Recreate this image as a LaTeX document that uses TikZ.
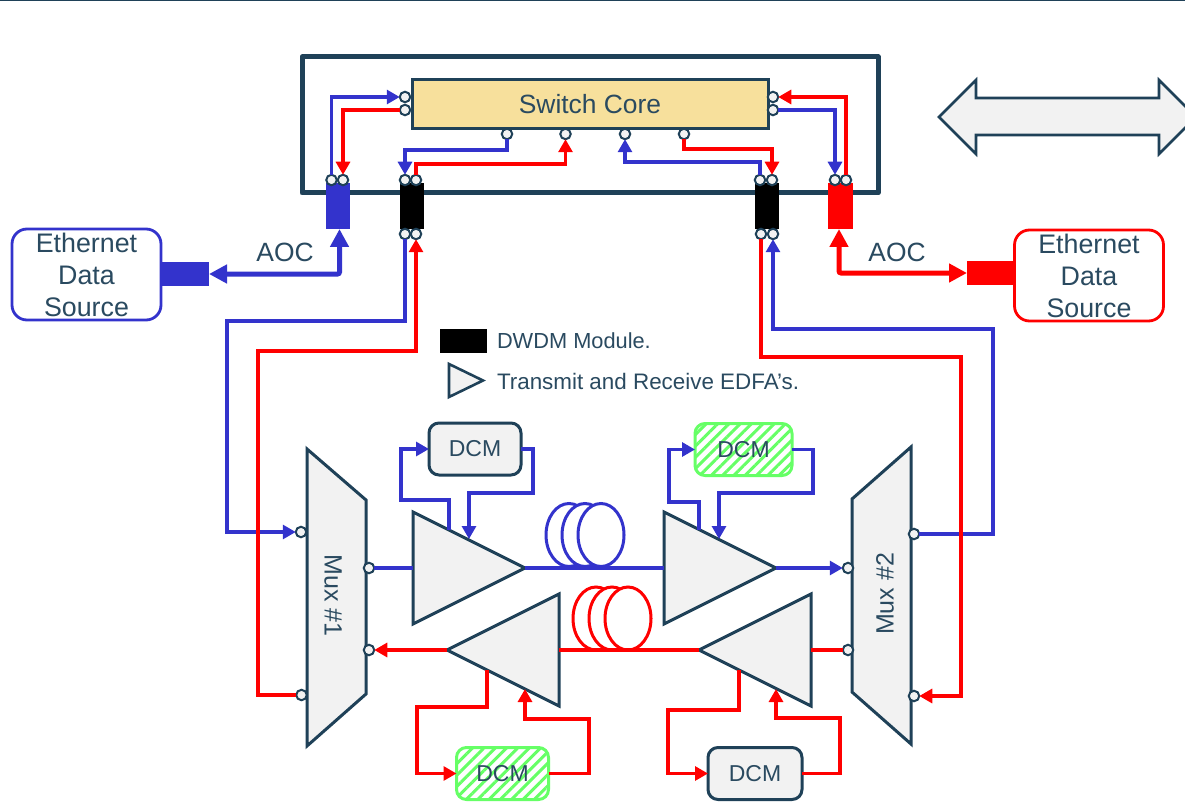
\documentclass[tikz,border=0pt]{standalone}
\usepackage{fontspec}
\setmainfont{Liberation Sans}
\usetikzlibrary{arrows.meta,shapes.geometric,patterns.meta}
\definecolor{dk}{HTML}{1F4158}
\definecolor{txt}{HTML}{2A4A60}
\definecolor{bl}{HTML}{3333CC}
\definecolor{rd}{HTML}{FF0000}
\definecolor{gy}{HTML}{F2F2F2}
\definecolor{gn}{HTML}{66FF66}
\definecolor{core}{HTML}{F7E09C}
\tikzset{
  x=1pt,y=-1pt,
  every node/.style={inner sep=0pt,outer sep=0pt,text=txt},
  tipS/.tip={Triangle[length=13pt,width=14pt]},
  tipL/.tip={Triangle[length=18pt,width=18pt]},
  bw/.style={draw=bl,line width=3.05pt,tipS-},
  bwa/.style={draw=bl,line width=3.05pt,-tipS},
  bwn/.style={draw=bl,line width=3.05pt},
  rw/.style={draw=rd,line width=3.05pt,tipS-},
  rwa/.style={draw=rd,line width=3.05pt,-tipS},
  rwn/.style={draw=rd,line width=3.05pt},
  thick bl/.style={draw=bl,line width=5pt,rounded corners=2pt,tipL-tipL},
  thick rd/.style={draw=rd,line width=5pt,rounded corners=2pt,tipL-tipL},
  port/.style={circle,draw=dk,fill=gy,line width=2pt,minimum size=10.5pt},
  module/.style={rectangle,minimum width=24pt,minimum height=46pt},
  conn/.style={rectangle,minimum width=48pt,minimum height=24pt},
  eth/.style={rectangle,rounded corners=15pt,fill=white,line width=2.8pt,
     minimum width=149pt,minimum height=91pt,align=center,
     font=\fontsize{26.8}{32}\selectfont},
  aoc/.style={font=\fontsize{26.4}{30}\selectfont},
  dcm/.style={rectangle,rounded corners=10pt,minimum width=92pt,minimum height=52pt,
     font=\fontsize{23}{26}\selectfont},
  dcmg/.style={dcm,draw=dk,line width=3pt,fill=gy},
  dcmh/.style={dcm,draw=gn,line width=3pt,fill=white,
     pattern={Lines[angle=45,distance=8pt,line width=3pt]},pattern color=gn},
  amp/.style={isosceles triangle,isosceles triangle stretches,draw=dk,fill=gy,
     line width=3pt,minimum height=112pt,minimum width=112pt,anchor=apex},
  poly/.style={draw=dk,fill=gy,line width=3pt,line join=miter},
  coilb/.style={draw=bl,fill=white,line width=3pt},
  coilr/.style={draw=rd,fill=white,line width=3pt},
  mux/.style={font=\fontsize{25}{28}\selectfont},
  legend/.style={anchor=west,font=\fontsize{21.8}{26}\selectfont},
  legendb/.style={anchor=west,font=\fontsize{22.4}{26}\selectfont},
}
\begin{document}
\begin{tikzpicture}
\clip (0,0) rectangle (1185,802);
\fill[white] (0,0) rectangle (1185,802);
\fill[dk] (0,0) rectangle (1185,1.5);

% switch frame and core
\draw[dk,line width=5pt,line join=round] (302,57) rectangle (878,193);
\node[rectangle,draw=dk,fill=core,line width=3pt,minimum width=356pt,minimum height=49pt,
  font=\fontsize{26.4}{30}\selectfont] (core) at (590,104) {Switch Core};

% double arrow
\draw[poly,line width=2.6pt] (939,117) -- (976,80) -- (976,98) -- (1159,98) -- (1159,80)
  -- (1196,117) -- (1159,154) -- (1159,135) -- (976,135) -- (976,154) -- cycle;

% modules
\node[module,fill=bl] (mb) at (338,206) {};
\node[module,fill=black] (m1) at (411.5,206) {};
\node[module,fill=black] (m2) at (767,206) {};
\node[module,fill=rd,minimum width=25pt] (mr) at (840.5,206) {};

% ports
\node[port] (cl1) at (405,97) {};
\node[port] (cl2) at (405,110) {};
\node[port] (cr1) at (773,97) {};
\node[port] (cr2) at (773,110) {};
\node[port] (cb1) at (507,134) {};
\node[port] (cb2) at (565.5,134) {};
\node[port] (cb3) at (625,134) {};
\node[port] (cb4) at (684,134) {};
\node[port] (mbt1) at (331.5,180) {};
\node[port] (mbt2) at (343,180) {};
\node[port] (m1t1) at (405,180) {};
\node[port] (m1t2) at (416,180) {};
\node[port] (m1b1) at (405,234) {};
\node[port] (m1b2) at (416,234) {};
\node[port] (m2t1) at (760,180) {};
\node[port] (m2t2) at (772,180) {};
\node[port] (m2b1) at (761,234) {};
\node[port] (m2b2) at (773,234) {};
\node[port] (mrt1) at (835,180) {};
\node[port] (mrt2) at (846,180) {};

% switch wiring
\draw[bwa] (mbt1.north) |- (cl1.west);
\draw[rwa] (cl2.west) -| (mbt2.north);
\draw[rwa] (mrt2.north) |- (cr1.east);
\draw[bwa] (cr2.east) -| (mrt1.north);
\coordinate (j1) at (405,150);
\coordinate (j2) at (565.5,164);
\coordinate (j3) at (625,162);
\coordinate (j4) at (772,149);
\draw[bwa] (cb1.south) |- (j1) -- (m1t1.north);
\draw[rwa] (m1t2.north) |- (j2) -- (cb2.south);
\draw[bwa] (m2t1.north) |- (j3) -- (cb3.south);
\draw[rwa] (cb4.south) |- (j4) -- (m2t2.north);

% Ethernet sources
\node[eth,draw=bl] (ethl) at (86.5,274.5) {\raisebox{-1pt}{Ethernet}\\\raisebox{-1pt}{Data}\\\raisebox{-1pt}{Source}};
\node[eth,draw=rd] (ethr) at (1089,275.5) {\raisebox{-1pt}{Ethernet}\\\raisebox{-1pt}{Data}\\\raisebox{-1pt}{Source}};
\node[conn,fill=bl] (cl) at (185,274) {};
\node[conn,fill=rd] (cr) at (991,273) {};
\draw[thick bl] (cl.east) -| ([xshift=1.5pt]mb.south);
\draw[thick rd] (cr.west) -| ([xshift=-1.5pt]mr.south);
\node[aoc] (aocl) at (285,252) {AOC};
\node[aoc] (aocr) at (897,252) {AOC};

% legend
\node[rectangle,fill=black,minimum width=47pt,minimum height=24pt] (lgm) at (463.5,341) {};
\node[legend] (lgmt) at (497,341) {DWDM Module.};
\node[amp,line width=2.6pt,minimum height=34pt,minimum width=33pt] (lga) at (483,380.5) {};
\node[legendb] (lgat) at (497,381.5) {Transmit and Receive EDFA’s.};

% muxes
\draw[poly] (307,449) -- (366,500) -- (366,694) -- (307,746) -- cycle;
\draw[poly] (911,447) -- (852,499) -- (852,692) -- (911,744) -- cycle;
\node[mux,rotate=-90] (mux1) at (333,595.5) {Mux \#1};
\node[mux,rotate=90] (mux2) at (885,594) {Mux \#2};
\node[port] (x1a) at (301,532) {};
\node[port] (x1b) at (301.5,695) {};
\node[port] (x1c) at (369,568) {};
\node[port] (x1d) at (369,650) {};
\node[port] (x2a) at (848,568) {};
\node[port] (x2b) at (848,650) {};
\node[port] (x2c) at (914,534) {};
\node[port] (x2d) at (914,696) {};

% long wires
\coordinate (wa) at (227,321);
\coordinate (wb) at (258,351);
\coordinate (wc) at (961,357);
\coordinate (wd) at (993,329);
\draw[bwa] (m1b1.south) |- (wa) |- (x1a.west);
\draw[bw] (m2b2.south) |- (wd) |- (x2c.east);
\draw[rw] (m1b2.south) |- (wb) |- (x1b.west);
\draw[rwa] (m2b1.south) |- (wc) |- (x2d.east);

% fibre coils
\foreach \cx in {569,585,601}{\draw[coilb] (\cx,535) ellipse [x radius=23,y radius=31.5];}
\foreach \cx in {596,612,628}{\draw[coilr] (\cx,618.5) ellipse [x radius=23,y radius=31.5];}

% amplifiers
\node[amp] (a1) at (525,568) {};
\node[amp] (a3) at (776,568) {};
\node[amp,shape border rotate=180] (a2) at (447,650) {};
\node[amp,shape border rotate=180] (a4) at (699,650) {};

\draw[bwn] (x1c.east) -- (a1);
\draw[bwn] (a1.apex) -- (a3);
\draw[bwa] (a3.apex) -- (x2a.west);
\draw[rwn] (x2b.west) -- (a4);
\draw[rwn] (a4.apex) -- (a2);
\draw[rwa] (a2.apex) -- (x1d.east);

% DCMs
\node[dcmg] (d1) at (475,449) {DCM};
\node[dcmh,minimum width=97pt] (d2) at (743.5,449.5) {DCM};
\node[dcmh] (d3) at (502.5,773.5) {DCM};
\node[dcmg,minimum width=94pt] (d4) at (755,773.5) {DCM};

% DCM loops
\coordinate (a1o) at (449,530);
\coordinate (a1i) at (469,539);
\coordinate (f1) at (401,500);
\coordinate (f2) at (533,493);
\coordinate (a3o) at (699,530);
\coordinate (a3i) at (719,539);
\coordinate (f3) at (669,502);
\coordinate (f4) at (813,493);
\coordinate (a2o) at (487,670);
\coordinate (a2i) at (525,689);
\coordinate (f5) at (417,707);
\coordinate (f6) at (589,719);
\coordinate (a4o) at (739,670);
\coordinate (a4i) at (776,689);
\coordinate (f7) at (668,710);
\coordinate (f8) at (840,718);
\draw[bwa] (a1o) |- (f1) |- (d1.west);
\draw[bwa] (d1.east) -| (f2) -| (a1i);
\draw[bwa] (a3o) |- (f3) |- (d2.west);
\draw[bwa] (d2.east) -| (f4) -| (a3i);
\draw[rwa] (a2o) |- (f5) |- (d3.west);
\draw[rwa] (d3.east) -| (f6) -| (a2i);
\draw[rwa] (a4o) |- (f7) |- (d4.west);
\draw[rwa] (d4.east) -| (f8) -| (a4i);
\end{tikzpicture}
\end{document}
